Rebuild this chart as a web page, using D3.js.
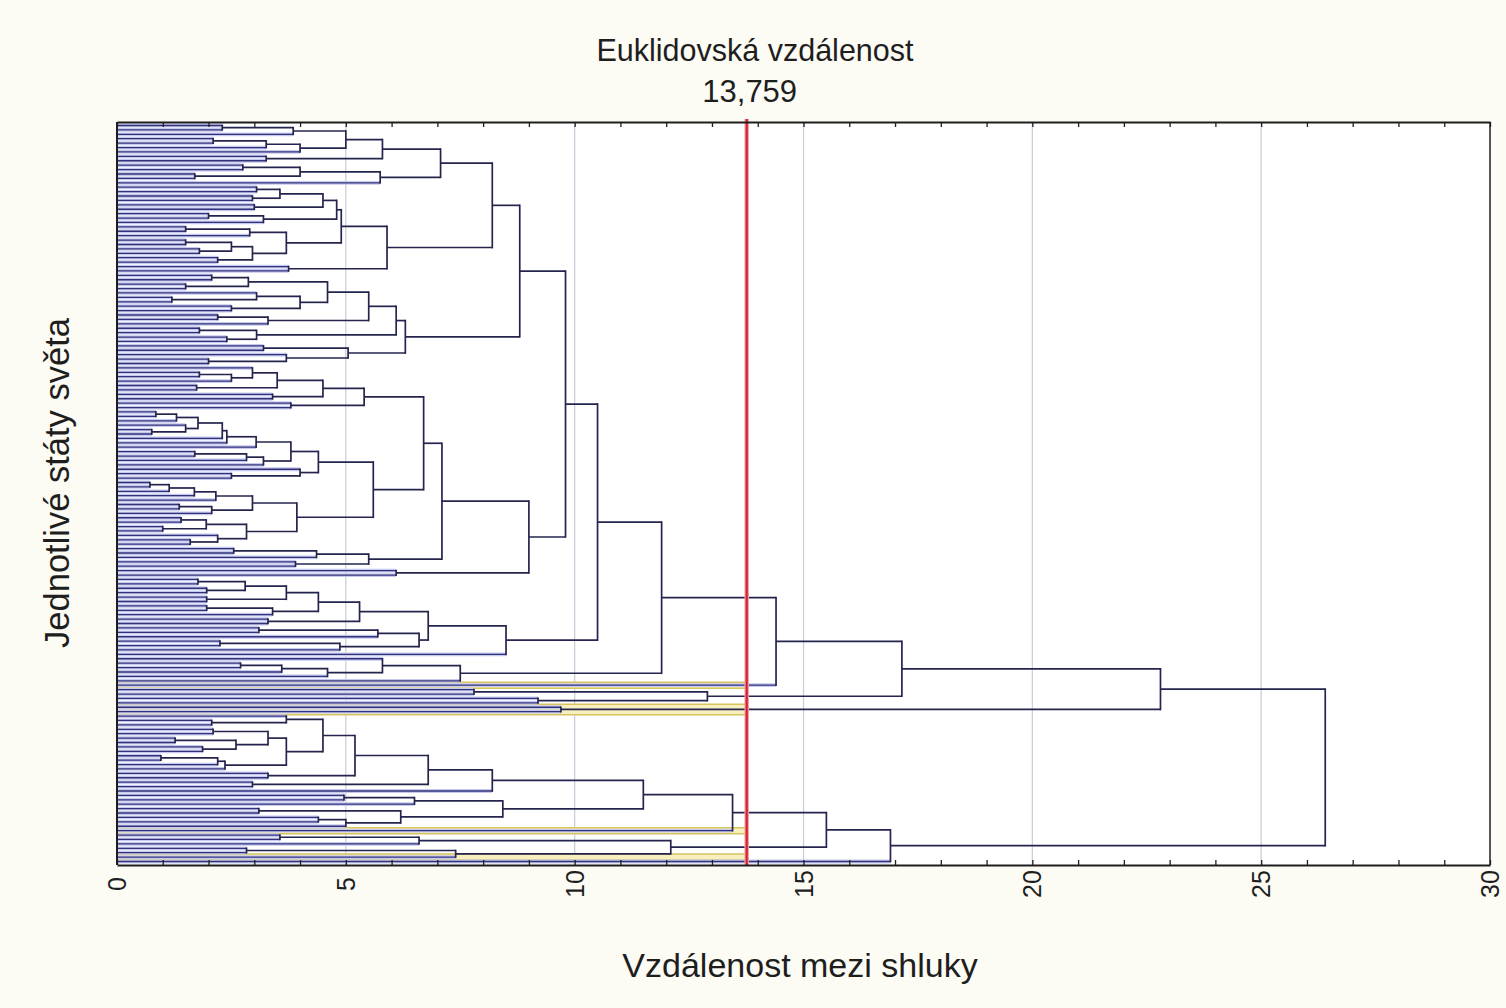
<!DOCTYPE html>
<html>
<head>
<meta charset="utf-8">
<script src="https://cdn.jsdelivr.net/npm/d3@7"></script>
<style>
  html, body { margin: 0; padding: 0; background: #fcfbf4; }
  svg { display: block; font-family: "Liberation Sans", Arial, sans-serif; }
</style>
</head>
<body>
<svg id="chart" width="1506" height="1008"></svg>
<script>
// ---------------- DATA ----------------
const chartTitle = "Euklidovská vzdálenost";
const cutLabel = "13,759";
const cutHeight = 13.759;
const xLabel = "Vzdálenost mezi shluky";
const yLabel = "Jednotlivé státy světa";
const xDomain = [0, 30];
const minorTicks = d3.range(0, 31);
const tickLabels = [0, 5, 10, 15, 20, 25, 30];
const gridValues = [5, 10, 15, 20, 25];

// dendrogram: [merge distance, upper child, lower child]; L = state, Y = highlighted state
const L = 0, Y = 1;
// upper block
const qa1a = [5.8, [5.0, [3.85, [2.3, L, L], L], [4.0, [3.26, [2.1, L, L], L], L]], [3.26, L, L]];
const qa1b = [5.75, [4.0, [2.75, L, L], [1.7, L, L]], L];
const qa2 = [5.9,
  [4.9,
    [4.8, [4.5, [3.56, [3.05, L, L], [2.96, L, L]], [3.0, L, L]], [3.2, [2.0, L, L], L]],
    [3.7, [2.9, [1.5, L, L], L], [2.96, [2.5, [1.5, L, L], [1.8, L, L]], [2.2, L, L]]]],
  [3.75, L, L]];
const qb = [6.3,
  [6.1,
    [5.5,
      [4.6, [2.87, [2.07, L, L], [1.5, L, L]], [4.0, [3.05, L, [1.2, L, L]], [2.5, L, L]]],
      [3.3, [2.2, L, L], L]],
    [3.05, [1.8, L, L], [2.4, L, L]]],
  [5.05, [3.2, L, L], [3.7, L, [2.0, L, L]]]];
const q = [8.8, [8.2, [7.07, qa1a, qa1b], qa2], qb];

const n365 = [5.4, [4.5, [3.5, [2.96, L, [2.5, [1.8, L, L], L]], [1.74, L, L]], [3.4, L, L]], [3.8, L, L]];
const n318 = [4.4,
  [3.8,
    [3.04, [2.4, [2.3, [1.77, [1.3, [0.85, L, L], L], [1.5, L, [0.76, L, L]]], L], L], L],
    [3.2, [2.83, [1.7, L, L], L], L]],
  [4.0, L, [2.5, L, L]]];
const n297 = [3.93,
  [2.96, [2.16, [1.69, [1.14, [0.72, L, L], L], L], L], [2.07, [1.36, L, L], L]],
  [2.83, [1.95, [1.4, L, L], [1.0, L, L]], [2.2, L, [1.6, L, L]]]];
const n369 = [5.5, [4.36, [2.55, L, L], L], [3.9, L, L]];
const x1 = [9.0, [7.1, [6.7, n365, [5.6, n318, n297]], n369], [6.1, L, L]];

const n427 = [6.8,
  [5.3, [4.4, [3.7, [2.8, [1.77, L, L], [1.96, L, L]], [1.96, L, L]], [3.4, [1.96, L, L], L]], [3.3, L, L]],
  [6.6, [5.7, [3.1, L, L], L], [4.87, [2.25, L, L], L]]];
const n460 = [7.5, [5.8, L, [4.6, [3.6, [2.7, L, L], L], L]], L];
const upperR = [10.5, [9.8, q, x1], [8.5, n427, L]];
const d12 = [12.9, [7.8, L, L], [9.2, L, L]];
const upperBlock = [22.8, [17.15, [14.4, [11.9, upperR, n460], Y], d12], [9.7, Y, Y]];

// lower block
const n637 = [4.5, [3.7, L, [2.07, L, L]],
  [3.7, [3.3, [2.1, L, L], [2.6, [1.27, L, L], [1.87, L, L]]], [2.36, [2.2, [0.96, L, L], L], L]]];
const n1150 = [8.2, [6.8, [5.2, n637, [3.3, L, L]], [2.96, L, L]], L];
const n503 = [8.43, [6.5, [4.96, L, L], L], [6.2, [3.1, L, L], [5.0, [4.4, L, L], L]]];
const n672 = [12.1, [6.6, [3.56, L, L], L], [7.4, [2.83, L, L], Y]];
const lowerBlock = [16.9, [15.5, [13.45, [11.5, n1150, n503], Y], n672], L];

const treeRoot = [26.4, upperBlock, lowerBlock];

// ---------------- LAYOUT ----------------
const plot = { left: 117, right: 1490, top: 122, bottom: 865 };

function build(node) {
  if (!Array.isArray(node)) return { h: 0, hl: node === Y };
  return { h: node[0], children: [build(node[1]), build(node[2])] };
}
const root = d3.hierarchy(build(treeRoot), d => d.children);
let leafCount = 0;
root.eachAfter(n => {
  if (!n.children) n.pos = leafCount++;
  else n.pos = (n.children[0].pos + n.children[1].pos) / 2;
});

const x = d3.scaleLinear().domain(xDomain).range([plot.left, plot.right]);
const y = d3.scaleLinear().domain([0, leafCount - 1]).range([125.5, 861.5]);

const svg = d3.select("#chart");

// plot background
svg.append("rect").attr("x", plot.left).attr("y", plot.top)
  .attr("width", plot.right - plot.left).attr("height", plot.bottom - plot.top)
  .attr("fill", "#ffffff");

// grid
svg.append("g").selectAll("line").data(gridValues).join("line")
  .attr("x1", d => x(d)).attr("x2", d => x(d))
  .attr("y1", plot.top).attr("y2", plot.bottom)
  .attr("stroke", "#c9cbd8").attr("stroke-width", 1.2);

const nodes = root.descendants();
const leaves = root.leaves();

// highlighted states (yellow band up to the cut line)
const hlG = svg.append("g");
const hlLeaves = leaves.filter(d => d.data.hl);
hlG.selectAll("line.o").data(hlLeaves).join("line")
  .attr("x1", x(0)).attr("x2", x(cutHeight))
  .attr("y1", d => y(d.pos)).attr("y2", d => y(d.pos))
  .attr("stroke", "#d6c45e").attr("stroke-width", 7.5);
hlG.selectAll("line.i").data(hlLeaves).join("line")
  .attr("x1", x(0)).attr("x2", x(cutHeight))
  .attr("y1", d => y(d.pos)).attr("y2", d => y(d.pos))
  .attr("stroke", "#f7efbe").attr("stroke-width", 4.5);

// leaf halos (lavender)
svg.append("g").selectAll("line").data(leaves).join("line")
  .attr("x1", x(0)).attr("x2", d => x(d.parent.data.h))
  .attr("y1", d => y(d.pos)).attr("y2", d => y(d.pos))
  .attr("stroke", "#c6c9ee").attr("stroke-width", 3.8);

// horizontal links
svg.append("g").selectAll("line").data(nodes.filter(d => d.parent)).join("line")
  .attr("x1", d => x(d.data.h)).attr("x2", d => x(d.parent.data.h))
  .attr("y1", d => y(d.pos)).attr("y2", d => y(d.pos))
  .attr("stroke", d => d.children ? "#24244e" : "#32327a")
  .attr("stroke-width", d => d.children ? 1.7 : 1.3);

// vertical links
svg.append("g").selectAll("line").data(nodes.filter(d => d.children)).join("line")
  .attr("x1", d => x(d.data.h)).attr("x2", d => x(d.data.h))
  .attr("y1", d => y(d.children[0].pos)).attr("y2", d => y(d.children[1].pos))
  .attr("stroke", "#24244e").attr("stroke-width", 1.7).attr("stroke-linecap", "square");

// cut line
svg.append("line")
  .attr("x1", x(cutHeight)).attr("x2", x(cutHeight))
  .attr("y1", plot.top - 3).attr("y2", plot.bottom)
  .attr("stroke", "#f2a0a8").attr("stroke-width", 4.5);
svg.append("line")
  .attr("x1", x(cutHeight)).attr("x2", x(cutHeight))
  .attr("y1", plot.top - 3).attr("y2", plot.bottom)
  .attr("stroke", "#d8202e").attr("stroke-width", 2.2);

// axes
function styleAxis(g) {
  g.select(".domain").attr("stroke", "#1e1e1e").attr("stroke-width", 2);
  g.selectAll(".tick line").attr("stroke", "#1e1e1e").attr("stroke-width", 1.3);
}
svg.append("g").attr("transform", `translate(0,${plot.bottom})`)
  .call(d3.axisBottom(x).tickValues(minorTicks).tickSize(-5).tickSizeOuter(0).tickFormat(""))
  .call(styleAxis);
svg.append("g").attr("transform", `translate(0,${plot.top})`)
  .call(d3.axisTop(x).tickValues(minorTicks).tickSize(-5).tickSizeOuter(0).tickFormat(""))
  .call(styleAxis);
svg.append("line").attr("x1", plot.left).attr("x2", plot.left)
  .attr("y1", plot.top).attr("y2", plot.bottom)
  .attr("stroke", "#1e1e1e").attr("stroke-width", 2);
svg.append("line").attr("x1", plot.right).attr("x2", plot.right)
  .attr("y1", plot.top).attr("y2", plot.bottom)
  .attr("stroke", "#1e1e1e").attr("stroke-width", 1.5);

// tick labels (rotated)
svg.append("g").selectAll("text").data(tickLabels).join("text")
  .attr("transform", d => `translate(${x(d)},884) rotate(-90)`)
  .attr("text-anchor", "middle").attr("dominant-baseline", "central")
  .attr("font-size", 25).attr("fill", "#1e1e1e")
  .text(d => d);

// titles
svg.append("text").attr("x", 755).attr("y", 61).attr("text-anchor", "middle")
  .attr("font-size", 30.5).attr("fill", "#1e1e1e").text(chartTitle);
svg.append("text").attr("x", x(cutHeight) + 3).attr("y", 102).attr("text-anchor", "middle")
  .attr("font-size", 31).attr("fill", "#1e1e1e").text(cutLabel);
svg.append("text").attr("x", 800).attr("y", 977).attr("text-anchor", "middle")
  .attr("font-size", 34).attr("fill", "#1e1e1e").text(xLabel);
svg.append("text").attr("transform", "translate(69,483) rotate(-90)")
  .attr("text-anchor", "middle")
  .attr("font-size", 34.5).attr("fill", "#1e1e1e").text(yLabel);
</script>
</body>
</html>
